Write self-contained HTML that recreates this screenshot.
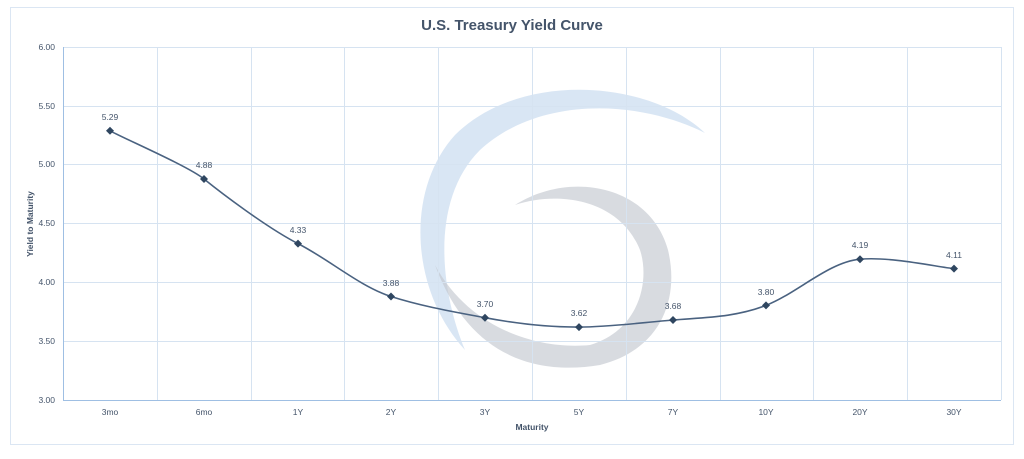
<!DOCTYPE html>
<html><head><meta charset="utf-8"><style>
html,body{margin:0;padding:0;background:#fff;}
svg{display:block;font-family:"Liberation Sans",sans-serif;}
</style></head><body>
<svg width="1024" height="459" viewBox="0 0 1024 459">
<rect x="10.5" y="7.5" width="1003" height="437" fill="#fff" stroke="#dbe6f3"/>
<text x="512" y="30" text-anchor="middle" font-size="15" font-weight="bold" fill="#44546a">U.S. Treasury Yield Curve</text>
<!-- watermark -->
<path d="M705,133 C650,80 520,70 455,135 C405,190 410,290 465,350 C440,290 430,200 480,150 C540,95 640,100 705,133 Z" fill="#c9dcef" opacity="0.7"/>
<path d="M515,205 C570,170 650,185 668,250 C680,300 660,350 600,365 C540,375 470,360 435,265 C470,330 540,350 590,345 C640,330 650,280 640,250 C620,200 560,190 515,205 Z" fill="#c3c7d0" opacity="0.65"/>
<g stroke="#d6e3f1" stroke-width="1">
<line x1="63" y1="47.5" x2="1001" y2="47.5"/>
<line x1="63" y1="106.5" x2="1001" y2="106.5"/>
<line x1="63" y1="164.5" x2="1001" y2="164.5"/>
<line x1="63" y1="223.5" x2="1001" y2="223.5"/>
<line x1="63" y1="282.5" x2="1001" y2="282.5"/>
<line x1="63" y1="341.5" x2="1001" y2="341.5"/>
<line x1="157.5" y1="47" x2="157.5" y2="400"/>
<line x1="251.5" y1="47" x2="251.5" y2="400"/>
<line x1="344.5" y1="47" x2="344.5" y2="400"/>
<line x1="438.5" y1="47" x2="438.5" y2="400"/>
<line x1="532.5" y1="47" x2="532.5" y2="400"/>
<line x1="626.5" y1="47" x2="626.5" y2="400"/>
<line x1="720.5" y1="47" x2="720.5" y2="400"/>
<line x1="813.5" y1="47" x2="813.5" y2="400"/>
<line x1="907.5" y1="47" x2="907.5" y2="400"/>
<line x1="1001.5" y1="47" x2="1001.5" y2="400"/>
</g>
<line x1="63.5" y1="47" x2="63.5" y2="400" stroke="#9fbfe3"/>
<line x1="63" y1="400.5" x2="1001" y2="400.5" stroke="#9fbfe3"/>
<g font-size="8.5" fill="#44546a" text-anchor="end">
<text x="55" y="50">6.00</text><text x="55" y="109">5.50</text><text x="55" y="167">5.00</text>
<text x="55" y="226">4.50</text><text x="55" y="285">4.00</text><text x="55" y="344">3.50</text><text x="55" y="403">3.00</text>
</g>
<g font-size="8.5" fill="#44546a" text-anchor="middle">
<text x="110" y="415">3mo</text><text x="204" y="415">6mo</text><text x="298" y="415">1Y</text><text x="391" y="415">2Y</text>
<text x="485" y="415">3Y</text><text x="579" y="415">5Y</text><text x="673" y="415">7Y</text><text x="766" y="415">10Y</text>
<text x="860" y="415">20Y</text><text x="954" y="415">30Y</text>
</g>
<text x="532" y="430" text-anchor="middle" font-size="8.5" font-weight="bold" fill="#44546a">Maturity</text>
<text transform="translate(33,224) rotate(-90)" text-anchor="middle" font-size="8.5" font-weight="bold" fill="#44546a">Yield to Maturity</text>
<path d="M110,130.8 C125.7,139.3 188.3,166.3 204,179 C219.7,191.7 266.8,227.7 298,243.6 C329.2,259.5 360,286.6 391,296.5 C422,306.4 453.7,311.8 485,317.7 C516.3,323.6 547.7,327.3 579,327.1 C610.3,326.9 641.8,322.6 673,320 C704.2,317.4 735,317.5 766,305.4 C797,293.3 828.7,262 860,259.2 C891.3,256.4 938.3,267.2 954,268.6" fill="none" stroke="#4a6280" stroke-width="1.6"/>
<g fill="#2f4660">
<path d="M110,126.8 l4,4 l-4,4 l-4,-4z"/><path d="M204,175 l4,4 l-4,4 l-4,-4z"/>
<path d="M298,239.6 l4,4 l-4,4 l-4,-4z"/><path d="M391,292.5 l4,4 l-4,4 l-4,-4z"/>
<path d="M485,313.7 l4,4 l-4,4 l-4,-4z"/><path d="M579,323.1 l4,4 l-4,4 l-4,-4z"/>
<path d="M673,316 l4,4 l-4,4 l-4,-4z"/><path d="M766,301.4 l4,4 l-4,4 l-4,-4z"/>
<path d="M860,255.2 l4,4 l-4,4 l-4,-4z"/><path d="M954,264.6 l4,4 l-4,4 l-4,-4z"/>
</g>
<g font-size="8.5" fill="#44546a" text-anchor="middle">
<text x="110" y="120">5.29</text><text x="204" y="168">4.88</text><text x="298" y="233">4.33</text>
<text x="391" y="286">3.88</text><text x="485" y="307">3.70</text><text x="579" y="316">3.62</text>
<text x="673" y="309">3.68</text><text x="766" y="295">3.80</text><text x="860" y="248">4.19</text><text x="954" y="258">4.11</text>
</g>
</svg>
</body></html>
